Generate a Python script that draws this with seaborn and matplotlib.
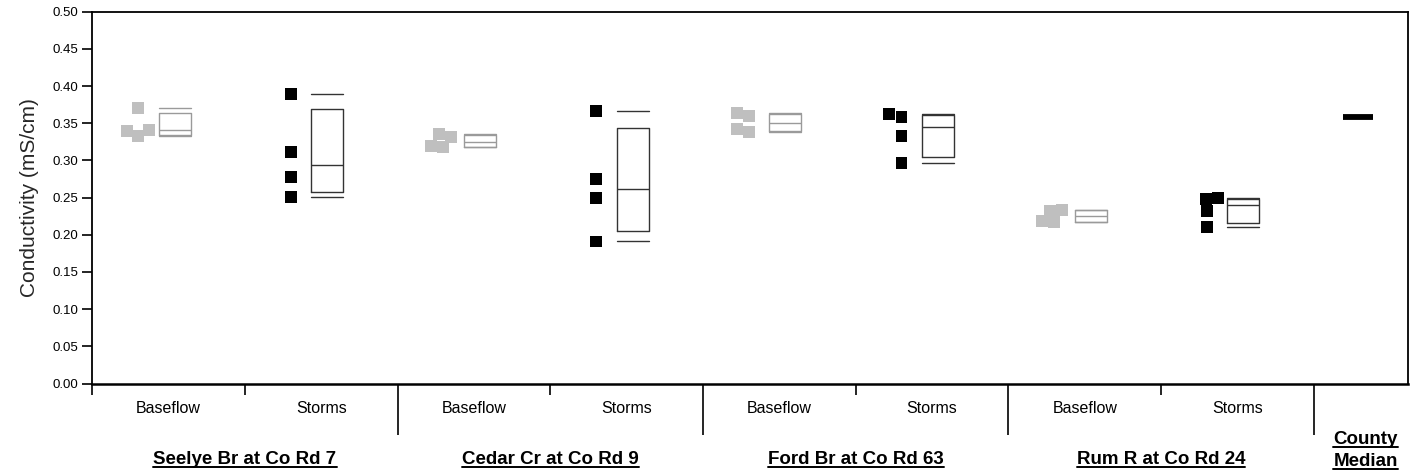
import matplotlib
matplotlib.use("Agg")
import matplotlib.pyplot as plt
import numpy as np
import pandas as pd
import seaborn as sns
from matplotlib.lines import Line2D
from matplotlib.transforms import IdentityTransform

# --- data (conductivity, mS/cm) ---
sites = ["Seelye Br at Co Rd 7", "Cedar Cr at Co Rd 9", "Ford Br at Co Rd 63", "Rum R at Co Rd 24"]
flows = ["Baseflow", "Storms"]

seelye_base = [0.371, 0.341, 0.340, 0.333]
seelye_storm = [0.389, 0.311, 0.278, 0.251]
cedar_base = [0.331, 0.335, 0.319, 0.318]
cedar_storm = [0.366, 0.275, 0.249, 0.191]
ford_base = [0.360, 0.364, 0.342, 0.338]
ford_storm = [0.358, 0.362, 0.333, 0.296]
rum_base = [0.232, 0.233, 0.218, 0.217]
rum_storm = [0.249, 0.248, 0.232, 0.211]
county_median = 0.358

samples = [
    (seelye_base, seelye_storm),
    (cedar_base, cedar_storm),
    (ford_base, ford_storm),
    (rum_base, rum_storm),
]

# --- styling ---
POINT_OFFSET = -0.20
BOX_OFFSET = 0.04
BOX_W = 0.21
XMAX = 8.12
colors_pts = {"Baseflow": "#bfbfbf", "Storms": "black"}
colors_box = {"Baseflow": "#9a9a9a", "Storms": "#333333"}

sns.set_style("ticks")
plt.rcParams["font.family"] = ["Liberation Sans", "DejaVu Sans"]
plt.rcParams["text.color"] = "black"
plt.rcParams["xtick.color"] = "black"
plt.rcParams["ytick.color"] = "black"
plt.rcParams["axes.edgecolor"] = "black"

rows = []
for i, site in enumerate(sites):
    for j, flow in enumerate(flows):
        for v in samples[i][j]:
            rows.append({"site": site, "flow": flow, "slot": 2 * i + j, "value": v})
df = pd.DataFrame(rows)
df["x"] = df["slot"] + POINT_OFFSET

fig = plt.figure(figsize=(14.16, 4.72), dpi=100)
ax = fig.add_axes([0.0652, 0.1875, 0.9294, 0.7877])

sns.swarmplot(
    data=df, x="x", y="value", hue="flow", palette=colors_pts,
    marker="s", size=8.6, linewidth=0, native_scale=True, legend=False, ax=ax,
)


def box_stats(vals):
    q1, med, q3 = np.percentile(vals, [25, 50, 75], method="weibull")
    return dict(med=med, q1=q1, q3=q3, whislo=min(vals), whishi=max(vals), fliers=[])


for j, flow in enumerate(flows):
    stats = [box_stats(samples[i][j]) for i in range(len(sites))]
    pos = [2 * i + j + BOX_OFFSET for i in range(len(sites))]
    c = colors_box[flow]
    ax.bxp(
        stats, positions=pos, widths=BOX_W, capwidths=BOX_W,
        showfliers=False, manage_ticks=False,
        boxprops=dict(color=c, linewidth=1.0),
        medianprops=dict(color=c, linewidth=1.0),
        whiskerprops=dict(linestyle="none"),
        capprops=dict(color=c, linewidth=1.0),
    )

county_x = (7.5 + XMAX) / 2
ax.hlines(county_median, county_x - 0.12, county_x + 0.08, color="black", linewidth=4.2)

ax.set_xlim(-0.5, XMAX)
ax.set_ylim(0, 0.5)
ax.set_yticks(np.arange(0, 0.501, 0.05))
ax.set_yticklabels([f"{t:.2f}" for t in np.arange(0, 0.501, 0.05)])
ax.set_xlabel("")
ax.set_ylabel("Conductivity (mS/cm)", fontsize=15, labelpad=10)

ax.set_xticks([-0.5, 0.5, 2.5, 4.5, 6.5])
ax.set_xticks([1.5, 3.5, 5.5, 7.5], minor=True)
ax.tick_params(axis="x", which="major", length=8, width=1.2, labelbottom=False)
ax.tick_params(axis="x", which="minor", length=37, width=1.2, labelbottom=False)
ax.tick_params(axis="y", length=7, width=1.2, labelsize=9.5, pad=3)
for side in ["left", "top", "right"]:
    ax.spines[side].set_linewidth(1.3)
ax.spines["bottom"].set_linewidth(1.8)

xtr = ax.get_xaxis_transform()
for k in range(2 * len(sites)):
    ax.text(k, -0.066, flows[k % 2], transform=xtr, ha="center", va="center", fontsize=11.5)

group_texts = []
for i, site in enumerate(sites):
    t = ax.text(2 * i + 0.5, -0.2165, site, transform=xtr, ha="center", va="baseline",
                fontsize=13.5, fontweight="bold")
    group_texts.append(t)
for line, yy in [("County", -0.163), ("Median", -0.2215)]:
    t = ax.text(county_x + 0.03, yy, line, transform=xtr, ha="center", va="baseline",
                fontsize=13.5, fontweight="bold")
    group_texts.append(t)

# underline the bold site labels
fig.canvas.draw()
renderer = fig.canvas.get_renderer()
for t in group_texts:
    bb = t.get_window_extent(renderer)
    base_y = xtr.transform((0, t.get_position()[1]))[1]
    fig.add_artist(Line2D([bb.x0, bb.x1], [base_y - 3, base_y - 3], color="black",
                          linewidth=1.4, transform=IdentityTransform()))

fig.savefig("out.png", dpi=100)
plt.close(fig)
